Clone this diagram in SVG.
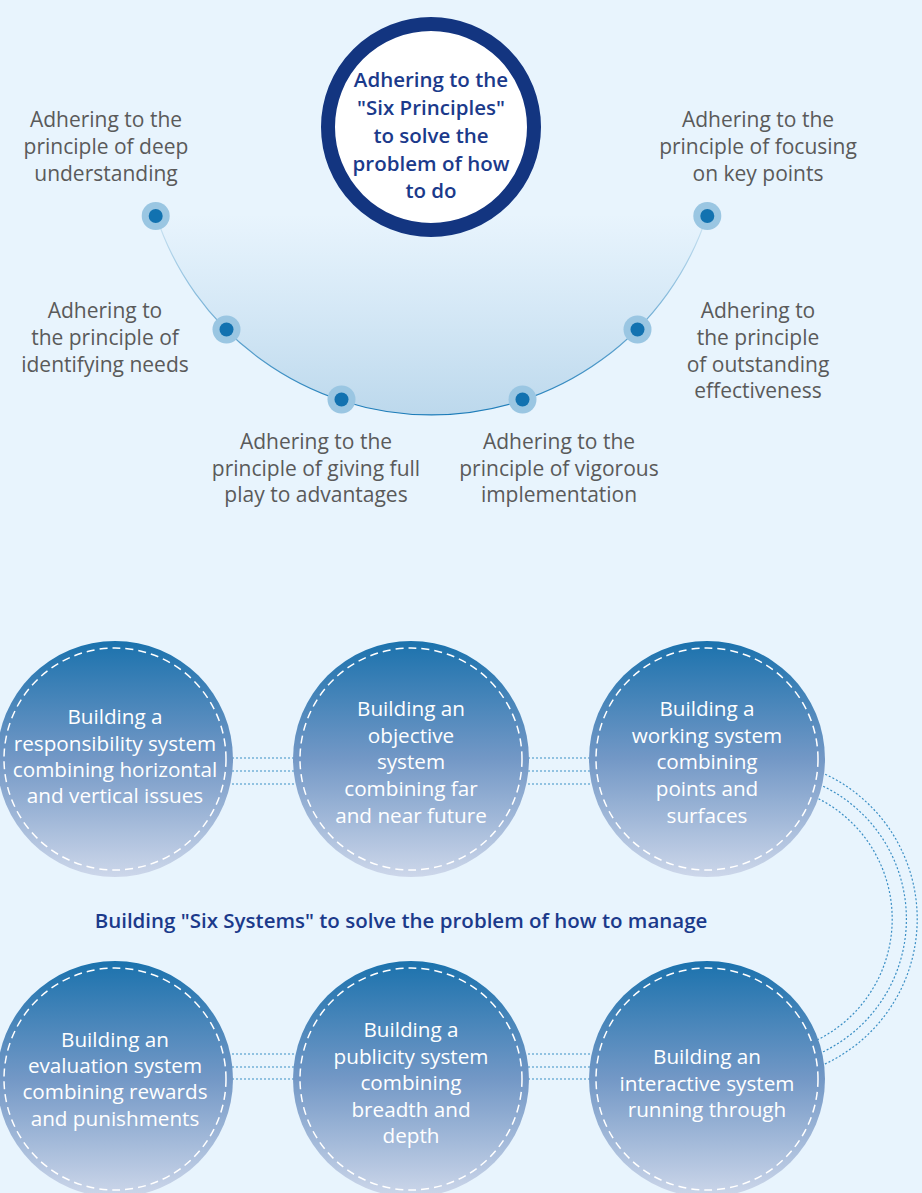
<svg xmlns="http://www.w3.org/2000/svg" width="922" height="1193" viewBox="0 0 922 1193">
<defs>
<style>
.lbl{font-family:"Open Sans","Liberation Sans",sans-serif;font-size:21px;fill:#5a5a5a;text-anchor:middle}
.nv{font-family:"Open Sans","Liberation Sans",sans-serif;font-size:20.5px;fill:#1b3a8b;font-weight:600;text-anchor:middle}
.wt{font-family:"Open Sans","Liberation Sans",sans-serif;font-size:20.7px;fill:#ffffff;text-anchor:middle}
.halo{fill:#9ac6e2}
.dot{fill:#1272b0}
.sys{fill:url(#cg)}
.dash{fill:none;stroke:#ffffff;stroke-width:1.5;stroke-dasharray:8 5}
.con{fill:none;stroke:#3b8fc5;stroke-width:1.2;stroke-dasharray:2 2}
</style>
<linearGradient id="cg" x1="0" y1="0" x2="0" y2="1">
<stop offset="0" stop-color="#1b72ad"/>
<stop offset="0.5" stop-color="#7398c6"/>
<stop offset="1" stop-color="#cdd7ea"/>
</linearGradient>
<linearGradient id="af" gradientUnits="userSpaceOnUse" x1="0" y1="214" x2="0" y2="416">
<stop offset="0" stop-color="#c2ddf0" stop-opacity="0"/>
<stop offset="1" stop-color="#bcd8ec" stop-opacity="1"/>
</linearGradient>
<linearGradient id="as" gradientUnits="userSpaceOnUse" x1="0" y1="214" x2="0" y2="416">
<stop offset="0" stop-color="#d2e7f4"/>
<stop offset="1" stop-color="#1b7bb8"/>
</linearGradient>
</defs>
<rect width="922" height="1193" fill="#e8f4fd"/>

<g id="arc">
<path d="M 155.7 214.6 A 290 290 0 0 0 707.3 214.6 Z" fill="url(#af)"/>
<path d="M 155.7 214.6 A 290 290 0 0 0 707.3 214.6" fill="none" stroke="url(#as)" stroke-width="1.2"/>
</g>

<g id="center">
<circle cx="431" cy="127" r="103" fill="#ffffff" stroke="#133580" stroke-width="14"/>
<text class="nv"><tspan x="431" y="87">Adhering to the</tspan><tspan x="431" y="115">"Six Principles"</tspan><tspan x="431" y="143">to solve the</tspan><tspan x="431" y="171">problem of how</tspan><tspan x="431" y="198">to do</tspan></text>
</g>

<g id="p1">
<circle class="halo" cx="155.7" cy="216" r="14"/><circle class="dot" cx="155.7" cy="216" r="7"/>
<text class="lbl"><tspan x="106" y="127">Adhering to the</tspan><tspan x="106" y="154">principle of deep</tspan><tspan x="106" y="181">understanding</tspan></text>
</g>
<g id="p2">
<circle class="halo" cx="226.5" cy="329.5" r="14"/><circle class="dot" cx="226.5" cy="329.5" r="7"/>
<text class="lbl"><tspan x="105" y="318">Adhering to</tspan><tspan x="105" y="345">the principle of</tspan><tspan x="105" y="372">identifying needs</tspan></text>
</g>
<g id="p3">
<circle class="halo" cx="341.5" cy="399.5" r="14"/><circle class="dot" cx="341.5" cy="399.5" r="7"/>
<text class="lbl"><tspan x="316" y="449">Adhering to the</tspan><tspan x="316" y="476">principle of giving full</tspan><tspan x="316" y="502">play to advantages</tspan></text>
</g>
<g id="p4">
<circle class="halo" cx="522.5" cy="399.5" r="14"/><circle class="dot" cx="522.5" cy="399.5" r="7"/>
<text class="lbl"><tspan x="559" y="449">Adhering to the</tspan><tspan x="559" y="476">principle of vigorous</tspan><tspan x="559" y="502">implementation</tspan></text>
</g>
<g id="p5">
<circle class="halo" cx="637.5" cy="329.5" r="14"/><circle class="dot" cx="637.5" cy="329.5" r="7"/>
<text class="lbl"><tspan x="758" y="318">Adhering to</tspan><tspan x="758" y="345">the principle</tspan><tspan x="758" y="372">of outstanding</tspan><tspan x="758" y="398">effectiveness</tspan></text>
</g>
<g id="p6">
<circle class="halo" cx="707.3" cy="216" r="14"/><circle class="dot" cx="707.3" cy="216" r="7"/>
<text class="lbl"><tspan x="758" y="127">Adhering to the</tspan><tspan x="758" y="154">principle of focusing</tspan><tspan x="758" y="181">on key points</tspan></text>
</g>

<g id="connectors">
<line class="con" x1="200" y1="758" x2="620" y2="758"/>
<line class="con" x1="200" y1="771" x2="620" y2="771"/>
<line class="con" x1="200" y1="784" x2="620" y2="784"/>
<line class="con" x1="200" y1="1054" x2="620" y2="1054"/>
<line class="con" x1="200" y1="1067" x2="620" y2="1067"/>
<line class="con" x1="200" y1="1079" x2="620" y2="1079"/>
<path class="con" d="M 818 771 A 160 160 0 0 1 818 1067"/>
<path class="con" d="M 816 783 A 147.5 147.5 0 0 1 816 1055"/>
<path class="con" d="M 815 797 A 135 135 0 0 1 815 1041"/>
</g>

<text id="title" class="nv" x="401" y="928">Building "Six Systems" to solve the problem of how to manage</text>

<g id="s1">
<circle class="sys" cx="115" cy="759" r="118"/><circle class="dash" cx="115" cy="759" r="111"/>
<text class="wt"><tspan x="115" y="724">Building a</tspan><tspan x="115" y="751">responsibility system</tspan><tspan x="115" y="777">combining horizontal</tspan><tspan x="115" y="803">and vertical issues</tspan></text>
</g>
<g id="s2">
<circle class="sys" cx="411" cy="759" r="118"/><circle class="dash" cx="411" cy="759" r="111"/>
<text class="wt"><tspan x="411" y="716">Building an</tspan><tspan x="411" y="743">objective</tspan><tspan x="411" y="769">system</tspan><tspan x="411" y="796">combining far</tspan><tspan x="411" y="823">and near future</tspan></text>
</g>
<g id="s3">
<circle class="sys" cx="707" cy="759" r="118"/><circle class="dash" cx="707" cy="759" r="111"/>
<text class="wt"><tspan x="707" y="716">Building a</tspan><tspan x="707" y="743">working system</tspan><tspan x="707" y="769">combining</tspan><tspan x="707" y="796">points and</tspan><tspan x="707" y="823">surfaces</tspan></text>
</g>
<g id="s4">
<circle class="sys" cx="115" cy="1079" r="118"/><circle class="dash" cx="115" cy="1079" r="111"/>
<text class="wt"><tspan x="115" y="1047">Building an</tspan><tspan x="115" y="1073">evaluation system</tspan><tspan x="115" y="1099">combining rewards</tspan><tspan x="115" y="1126">and punishments</tspan></text>
</g>
<g id="s5">
<circle class="sys" cx="411" cy="1079" r="118"/><circle class="dash" cx="411" cy="1079" r="111"/>
<text class="wt"><tspan x="411" y="1037">Building a</tspan><tspan x="411" y="1064">publicity system</tspan><tspan x="411" y="1090">combining</tspan><tspan x="411" y="1117">breadth and</tspan><tspan x="411" y="1143">depth</tspan></text>
</g>
<g id="s6">
<circle class="sys" cx="707" cy="1079" r="118"/><circle class="dash" cx="707" cy="1079" r="111"/>
<text class="wt"><tspan x="707" y="1064">Building an</tspan><tspan x="707" y="1091">interactive system</tspan><tspan x="707" y="1117">running through</tspan></text>
</g>
</svg>
